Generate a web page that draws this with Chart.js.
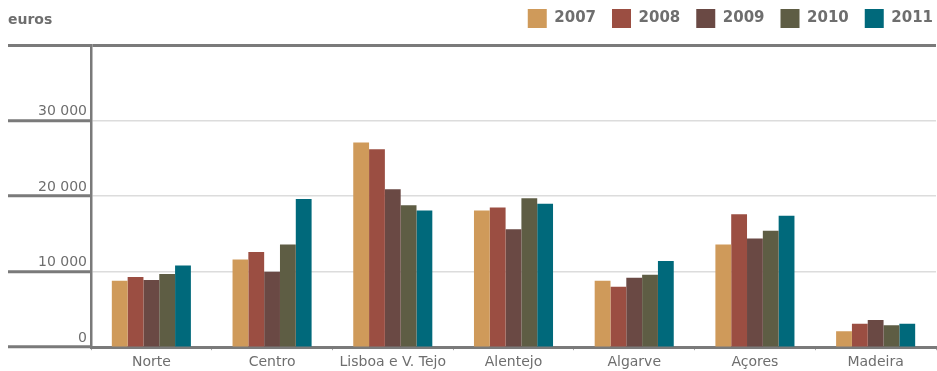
<!DOCTYPE html>
<html>
<head>
<meta charset="utf-8">
<script src="https://cdn.jsdelivr.net/npm/chart.js@4"></script>
<style>
  html, body { margin: 0; padding: 0; background: #fff; }
  #wrap { width: 937px; height: 371px; position: relative; }
</style>
</head>
<body>
<div id="wrap"><canvas id="chart"></canvas></div>
<script>
// Regions and yearly values (euros)
const regions = ["Norte", "Centro", "Lisboa e V. Tejo", "Alentejo", "Algarve", "Açores", "Madeira"];
const years = ["2007", "2008", "2009", "2010", "2011"];
const v2007 = [8800, 11600, 27100, 18100, 8800, 13600, 2100];
const v2008 = [9300, 12600, 26200, 18500, 8000, 17600, 3100];
const v2009 = [8900, 10000, 20900, 15600, 9200, 14400, 3600];
const v2010 = [9700, 13600, 18800, 19700, 9600, 15400, 2900];
const v2011 = [10800, 19600, 18100, 19000, 11400, 17400, 3100];
const yTicks = [0, 10000, 20000, 30000, 40000];

const colors = ["#CF9A5A", "#9B4E42", "#6A4944", "#5E5D44", "#00697B"];
const seriesValues = [v2007, v2008, v2009, v2010, v2011];

const GRAY_TEXT = "#6e6e6e";
const AXIS_DARK = "#7a7a7a";

// Unit caption in the top-left corner
const unitLabel = {
  id: "unitLabel",
  afterDraw(chart) {
    const ctx = chart.ctx;
    ctx.save();
    ctx.font = "bold 14px 'DejaVu Sans'";
    ctx.fillStyle = GRAY_TEXT;
    ctx.textBaseline = "middle";
    ctx.textAlign = "left";
    ctx.fillText("euros", 8, 20);
    ctx.restore();
  }
};

// Nudge the legend row up and flush to the right edge
const legendShift = {
  id: "legendShift",
  afterLayout(chart) {
    const lg = chart.legend;
    if (!lg) return;
    lg.left += 13; lg.right += 13;
    lg.top -= 7; lg.bottom -= 7;
  }
};

const fmt = v => String(v).replace(/\B(?=(\d{3})+(?!\d))/g, " ");

new Chart(document.getElementById("chart"), {
  type: "bar",
  data: {
    labels: regions,
    datasets: years.map((y, i) => ({
      label: y,
      data: seriesValues[i],
      backgroundColor: colors[i],
      borderWidth: 0,
      categoryPercentage: 0.655,
      barPercentage: 1.0
    }))
  },
  options: {
    responsive: true,
    maintainAspectRatio: false,
    animation: false,
    layout: { padding: { left: 8, right: 1, top: 0, bottom: -4 } },
    plugins: {
      legend: {
        position: "top",
        align: "end",
        labels: {
          boxWidth: 19,
          boxHeight: 19,
          padding: 16,
          color: GRAY_TEXT,
          font: { family: "'DejaVu Sans'", size: 15, weight: "bold" }
        }
      },
      tooltip: { enabled: false }
    },
    scales: {
      x: {
        grid: {
          drawOnChartArea: false,
          offset: true,
          tickLength: 3,
          tickColor: "#aaa",
          tickWidth: 1
        },
        border: { color: AXIS_DARK, width: 3 },
        ticks: {
          color: GRAY_TEXT,
          padding: 4,
          font: { family: "'DejaVu Sans'", size: 14 }
        }
      },
      y: {
        min: 0,
        max: 40000,
        afterBuildTicks(scale) { scale.ticks = yTicks.map(v => ({ value: v })); },
        afterFit(scale) { scale.width = 83; },
        grid: {
          color: c => (c.tick && c.tick.value === 40000) ? AXIS_DARK : "#dcdcdc",
          lineWidth: c => (c.tick && c.tick.value === 40000) ? 3 : 1.5,
          tickColor: AXIS_DARK,
          tickWidth: 3,
          tickLength: 83
        },
        border: { color: AXIS_DARK, width: 2.5 },
        ticks: {
          color: GRAY_TEXT,
          padding: -79,
          labelOffset: -9,
          font: { family: "'DejaVu Sans'", size: 14 },
          callback: v => v === 40000 ? "" : fmt(v)
        }
      }
    }
  },
  plugins: [unitLabel, legendShift]
});
</script>
</body>
</html>
